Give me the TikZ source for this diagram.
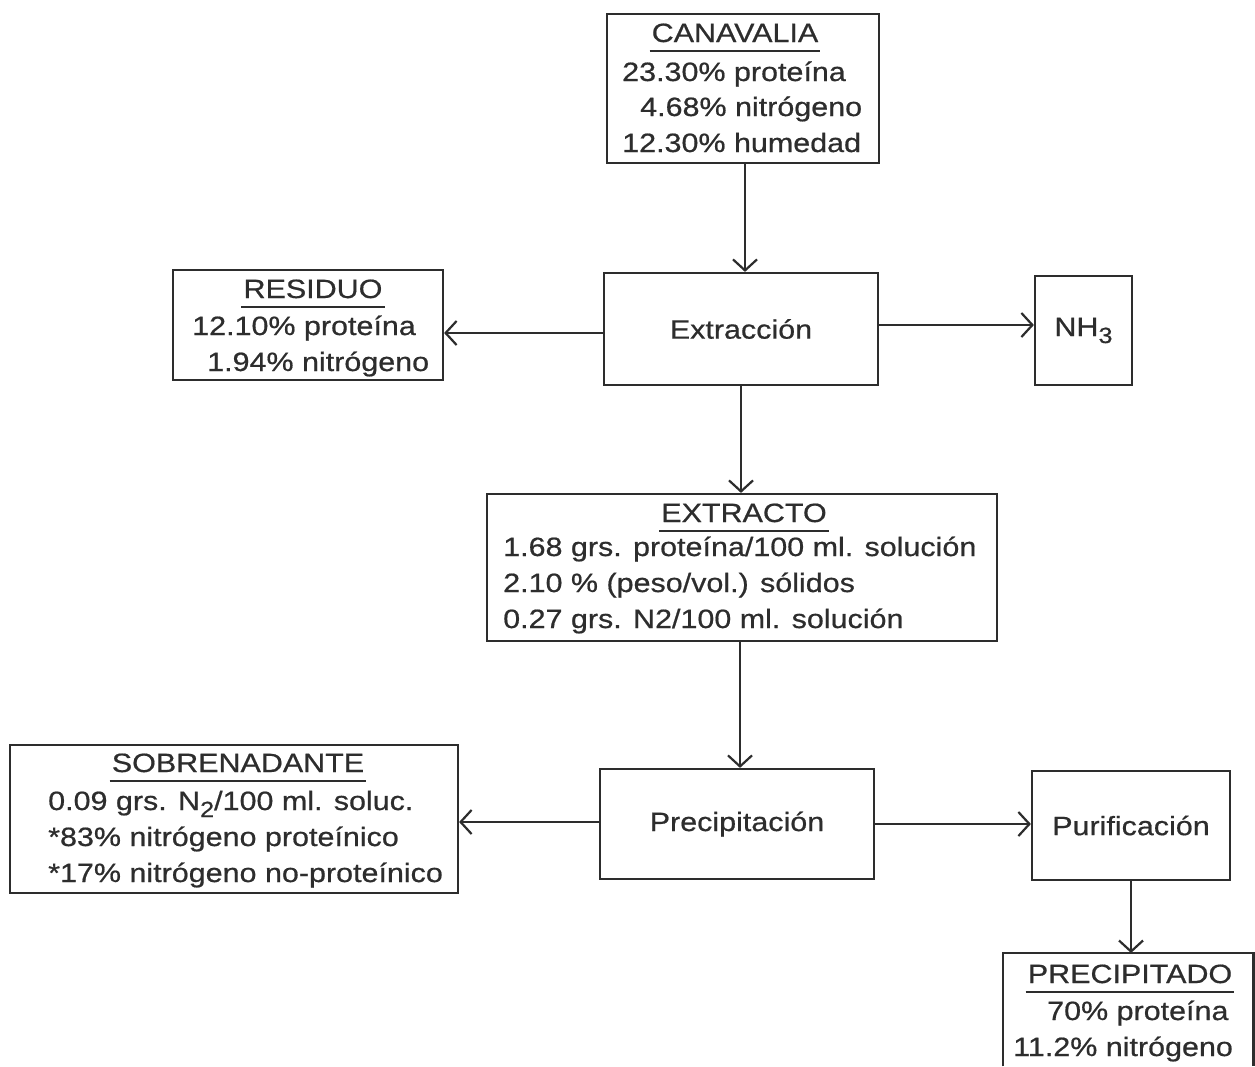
\documentclass[tikz,border=0pt]{standalone}
\usepackage{fontspec}
\setmainfont{Liberation Sans}[FakeStretch=1.15,FakeBold=0.6]
\usetikzlibrary{arrows.meta}
\definecolor{ink}{RGB}{45,45,45}
\newcommand{\subsc}[1]{\raisebox{-7pt}{\fontsize{22}{22}\selectfont #1}}
\begin{document}
\begin{tikzpicture}[x=1pt,y=-1pt,
  box/.style={draw=ink, line width=2.2pt, inner sep=0pt, text=ink, font=\fontsize{26.5}{30}\selectfont},
  txt/.style={font=\fontsize{26.5}{30}\selectfont, text=ink, inner sep=0pt, anchor=base west},
  ttl/.style={txt, anchor=base},
  uline/.style={draw=ink, line width=1.8pt},
  arr/.style={draw=ink, line width=2.2pt, -{Straight Barb[length=11pt,width=24pt,line width=2.2pt]}}]
\useasboundingbox (0,0) rectangle (1255,1066);
\fill[white] (0,0) rectangle (1255,1066);

% boxes
\node[box, minimum width=272pt, minimum height=149pt] (canav) at (743,88.5) {};
\node[box, minimum width=274pt, minimum height=112pt] (extr) at (741,329) {Extracción};
\node[box, minimum width=270pt, minimum height=110pt] (resid) at (308,325) {};
\node[box, minimum width=97pt, minimum height=109pt] (nh3) at (1083.5,330.5) {NH\subsc{3}};
\node[box, minimum width=510pt, minimum height=147pt] (extracto) at (742,567.5) {};
\node[box, minimum width=274pt, minimum height=110pt] (precip) at (737,824) {Precipitación};
\node[box, minimum width=448pt, minimum height=148pt] (sobre) at (234,819) {};
\node[box, minimum width=198pt, minimum height=109pt] (purif) at (1131,825.5) {Purificación};
\node[inner sep=0pt, minimum width=250pt, minimum height=113pt, anchor=north west] (precdo) at (1003,953) {};
\draw[ink, line width=2.2pt] (precdo.south west) -- (precdo.north west) -- (precdo.north east) -- (precdo.south east);

% CANAVALIA
\node[ttl] (t1) at (735,42) {CANAVALIA};
\draw[uline] ([shift={(-2pt,-9pt)}]t1.base west) -- ([shift={(2pt,-9pt)}]t1.base east);
\node[txt] (c1) at (622,81) {23.30\% proteína};
\node[txt] (c2) at (640,116) {4.68\% nitrógeno};
\node[txt] (c3) at (622,152) {12.30\% humedad};

% RESIDUO
\node[ttl] (t2) at (313,298) {RESIDUO};
\draw[uline] ([shift={(-2pt,-9pt)}]t2.base west) -- ([shift={(2pt,-9pt)}]t2.base east);
\node[txt] (r1) at (192,335) {12.10\% proteína};
\node[txt] (r2) at (207,371) {1.94\% nitrógeno};

% EXTRACTO
\node[ttl] (t3) at (744,522) {EXTRACTO};
\draw[uline] ([shift={(-2pt,-9pt)}]t3.base west) -- ([shift={(2pt,-9pt)}]t3.base east);
\node[txt] (e1) at (503,556) {1.68 grs. proteína/100 ml. solución};
\node[txt] (e2) at (503,592) {2.10 \% (peso/vol.) sólidos};
\node[txt] (e3) at (503,628) {0.27 grs. N2/100 ml. solución};

% SOBRENADANTE
\node[ttl] (t4) at (238,772) {SOBRENADANTE};
\draw[uline] ([shift={(-2pt,-9pt)}]t4.base west) -- ([shift={(2pt,-9pt)}]t4.base east);
\node[txt] (s1) at (48,810) {0.09 grs. N\subsc{2}/100 ml. soluc.};
\node[txt] (s2) at (48,846) {*83\% nitrógeno proteínico};
\node[txt] (s3) at (48,882) {*17\% nitrógeno no-proteínico};

% PRECIPITADO
\node[ttl] (t5) at (1130,983) {PRECIPITADO};
\draw[uline] ([shift={(-2pt,-9pt)}]t5.base west) -- ([shift={(2pt,-9pt)}]t5.base east);
\node[txt] (p1) at (1047,1020) {70\% proteína};
\node[txt] (p2) at (1013,1056) {11.2\% nitrógeno};

% connectors
\draw[arr] ([xshift=2pt]canav.south) -- ([xshift=2pt]canav.south |- extr.north);
\draw[arr] ([yshift=-4pt]extr.west) -- ([yshift=-4pt]extr.west -| resid.east);
\draw[arr] ([yshift=4pt]extr.east) -- ([yshift=4pt]extr.east -| nh3.west);
\draw[arr] (extr.south) -- (extr.south |- extracto.north);
\draw[arr] ([xshift=3pt]extracto.south -| precip) -- ([xshift=3pt]precip.north);
\draw[arr] ([yshift=2pt]precip.west) -- ([yshift=2pt]precip.west -| sobre.east);
\draw[arr] (precip.east) -- (precip.east -| purif.west);
\draw[arr] (purif.south) -- (purif.south |- precdo.north);
\end{tikzpicture}
\end{document}
